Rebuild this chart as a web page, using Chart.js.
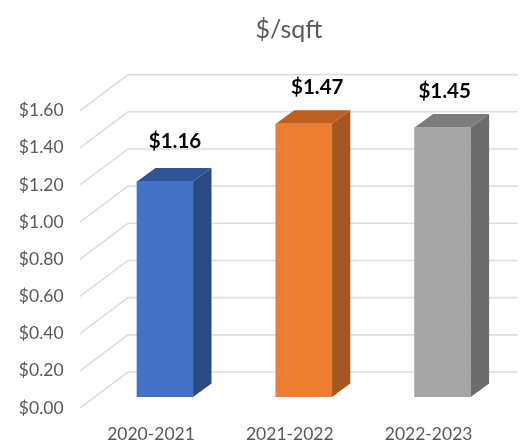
<!DOCTYPE html>
<html>
<head>
<meta charset="utf-8">
<title>$/sqft</title>
<script src="https://cdn.jsdelivr.net/npm/chart.js@4"></script>
<style>
html, body { margin: 0; padding: 0; background: #fff; }
canvas { display: block; }
</style>
</head>
<body>
<canvas id="chart" width="527" height="443"></canvas>
<script>
const categories = ["2020-2021", "2021-2022", "2022-2023"];
const costPerSqft = [1.16, 1.47, 1.45];
const frontColors = ["#4472c4", "#ed7d31", "#a5a5a5"];
const topColors = ["#2f5597", "#bd5f1f", "#7c7c7c"];
const sideColors = ["#2c4a82", "#a3561f", "#6c6c6c"];
const labelShift = [[10, -40], [13.5, -36], [2, -36]];

const money = v => "$" + Number(v).toFixed(2);

// 3d look: chart.js only draws the front of the bars, the rest goes here
const fake3d = {
	id: "fake3d",
	beforeDatasetsDraw(chart)
	{
		const {ctx, chartArea, scales: {y}} = chart;
		ctx.save();
		ctx.strokeStyle = "#dedede";
		ctx.lineWidth = 1.6;
		y.ticks.forEach(t => {
			const py = y.getPixelForValue(t.value);
			ctx.beginPath();
			ctx.moveTo(80, py + 11);
			ctx.lineTo(128, py - 25);
			ctx.lineTo(chartArea.right + 6, py - 25);
			ctx.stroke();
		});
		chart.getDatasetMeta(0).data.forEach((bar, i) => {
			const l = bar.x - bar.width / 2, r = bar.x + bar.width / 2;
			const dx = 18.5, dy = 13.5;
			ctx.fillStyle = sideColors[i];
			ctx.beginPath();
			ctx.moveTo(r, bar.y);
			ctx.lineTo(r + dx, bar.y - dy);
			ctx.lineTo(r + dx, bar.base - dy);
			ctx.lineTo(r, bar.base);
			ctx.fill();
			ctx.fillStyle = topColors[i];
			ctx.beginPath();
			ctx.moveTo(l, bar.y);
			ctx.lineTo(l + dx, bar.y - dy);
			ctx.lineTo(r + dx, bar.y - dy);
			ctx.lineTo(r, bar.y);
			ctx.fill();
		});
		ctx.restore();
	},
	afterDatasetsDraw(chart)
	{
		const {ctx} = chart;
		ctx.save();
		ctx.font = "bold 20.5px Lato";
		ctx.fillStyle = "#000";
		ctx.textAlign = "center";
		ctx.textBaseline = "middle";
		chart.getDatasetMeta(0).data.forEach((bar, i) => {
			ctx.fillText(money(costPerSqft[i]), bar.x + labelShift[i][0], bar.y + labelShift[i][1]);
		});
		ctx.restore();
	},
	afterLayout(chart)
	{
		// title sits right of the canvas centre
		chart.titleBlock.left += 33;
		chart.titleBlock.right += 33;
	}
};

new Chart(document.getElementById("chart"), {
	type: "bar",
	data: {
		labels: categories,
		datasets: [{
			data: costPerSqft,
			backgroundColor: frontColors,
			barThickness: 56
		}]
	},
	plugins: [fake3d],
	options: {
		responsive: false,
		animation: false,
		layout: {padding: {right: 15}},
		plugins: {
			legend: {display: false},
			tooltip: {enabled: false},
			title: {
				display: true,
				text: "$/sqft",
				color: "#595959",
				font: {family: "Lato", size: 25, weight: "normal"},
				padding: {top: 15, bottom: 54.6}
			}
		},
		scales: {
			x: {
				afterFit: s => { s.height = 46; },
				grid: {display: false, drawTicks: false},
				border: {display: false},
				ticks: {
					color: "#595959",
					font: {family: "Lato", size: 17.5},
					labelOffset: -14,
					padding: 27,
					maxRotation: 0
				}
			},
			y: {
				min: 0,
				max: 1.6,
				afterFit: s => { s.width = 95.6; },
				grid: {display: false, drawTicks: false},
				border: {display: false},
				ticks: {
					stepSize: 0.2,
					color: "#595959",
					font: {family: "Lato", size: 17.5},
					padding: 32,
					labelOffset: 11,
					callback: money
				}
			}
		}
	}
});
</script>
</body>
</html>
